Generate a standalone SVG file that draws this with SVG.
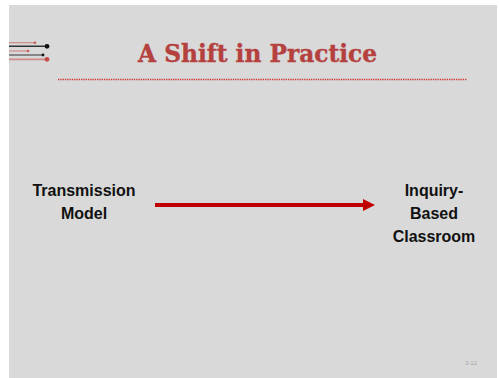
<svg xmlns="http://www.w3.org/2000/svg" width="499" height="378" viewBox="0 0 499 378">
  <style>
    .node { font-family: "Liberation Sans", Arial, sans-serif; font-weight: bold; font-size: 16px; fill: #111; text-anchor: middle; }
    .title { font-family: "DejaVu Serif", "Liberation Serif", serif; font-weight: bold; font-size: 25px; fill: #b5413f; }
    .pink { stroke: #d08a8a; }
    .dark { stroke: #333; }
  </style>
  <defs>
    <marker id="arrowHead" markerUnits="userSpaceOnUse" markerWidth="12" markerHeight="12" refX="0" refY="6" orient="auto">
      <polygon points="0,0 12,6 0,12" fill="#c00000"/>
    </marker>
  </defs>

  <!-- page background -->
  <rect x="0" y="0" width="499" height="378" fill="#ffffff"/>
  <rect x="9" y="5" width="488" height="373" fill="#d9d9d9"/>

  <!-- decorative circuit lines, top left -->
  <g id="logo">
    <line x1="9" y1="42.7" x2="35" y2="42.7" class="pink" stroke-width="1.2"/>
    <circle cx="35" cy="42.7" r="1.3" fill="#c85a5a"/>
    <line x1="9" y1="46.3" x2="47" y2="46.3" class="dark" stroke-width="1.6"/>
    <circle cx="47" cy="46.3" r="2.4" fill="#111"/>
    <line x1="9" y1="51" x2="28" y2="51" class="pink" stroke-width="1.2"/>
    <circle cx="28" cy="51" r="1.3" fill="#c85a5a"/>
    <line x1="9" y1="55" x2="43" y2="55" class="dark" stroke-width="1"/>
    <circle cx="43" cy="55" r="1.4" fill="#111"/>
    <line x1="9" y1="59.3" x2="47" y2="59.3" class="pink" stroke-width="1.8"/>
    <circle cx="47" cy="59.3" r="2.4" fill="#c84848"/>
  </g>

  <!-- title -->
  <g id="title">
    <text x="138" y="61.5" class="title" textLength="239" lengthAdjust="spacingAndGlyphs" stroke="#b5413f" stroke-width="0.4">A Shift in Practice</text>
    <line x1="58" y1="79.5" x2="467" y2="79.5" stroke="#d03030" stroke-width="1.3" stroke-dasharray="1.3,1"/>
  </g>

  <!-- connectors -->
  <g id="connectors">
    <line x1="155" y1="205" x2="363" y2="205" stroke="#c00000" stroke-width="4" marker-end="url(#arrowHead)"/>
  </g>

  <g id="transmission-model">
    <text class="node" x="84" y="195.5">Transmission</text>
    <text class="node" x="84" y="219">Model</text>
  </g>

  <g id="inquiry-based-classroom">
    <text class="node" x="434" y="195.5">Inquiry-</text>
    <text class="node" x="434" y="219">Based</text>
    <text class="node" x="434" y="242">Classroom</text>
  </g>

  <!-- slide number -->
  <text x="471" y="365" font-family="Liberation Sans, Arial, sans-serif" font-size="6" fill="#a8a8a8" text-anchor="middle">3-12</text>
</svg>
